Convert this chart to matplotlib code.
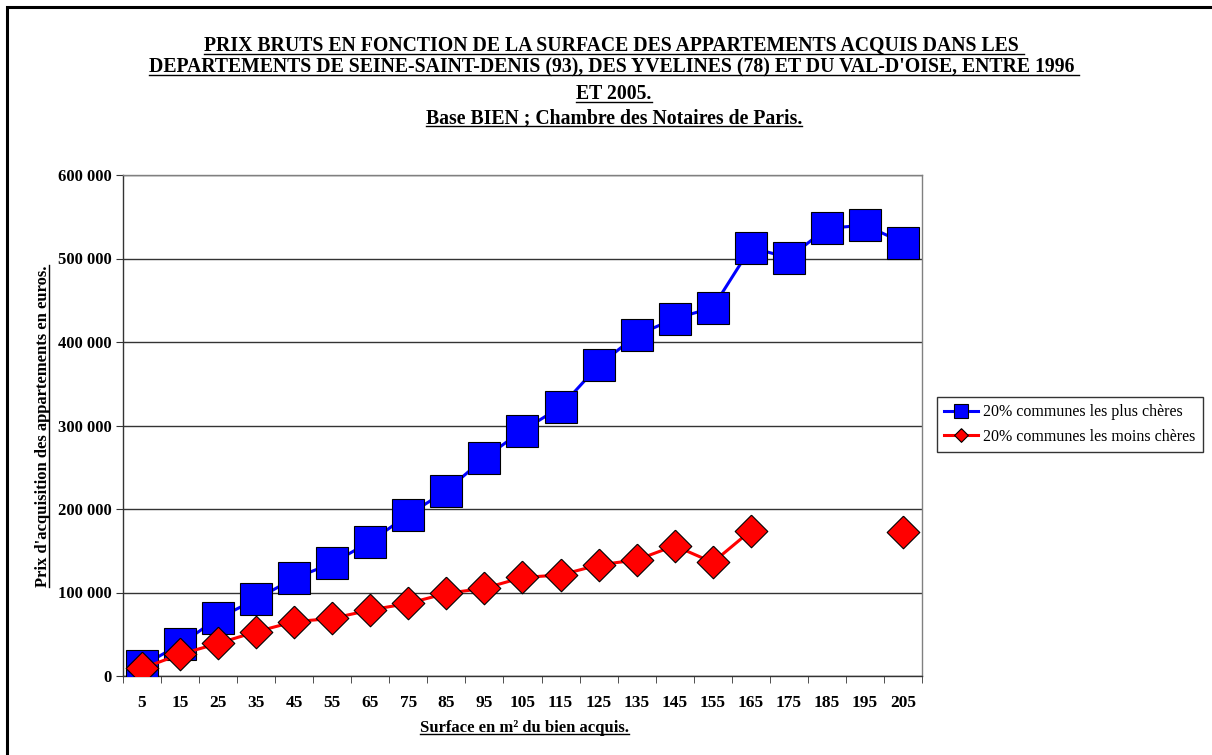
import numpy as np
import matplotlib
matplotlib.use('Agg')
import matplotlib.pyplot as plt
from matplotlib.lines import Line2D
from matplotlib.patches import Rectangle

# surface categories (m2)
surfaces = ['5', '15', '25', '35', '45', '55', '65', '75', '85', '95', '105',
            '115', '125', '135', '145', '155', '165', '175', '185', '195', '205']
# 20% most expensive communes
prix_cheres = [12000, 38000, 69000, 92000, 117000, 135000, 161000, 193000,
               222000, 261000, 294000, 322000, 372000, 408000, 428000, 441000,
               513000, 501000, 536000, 540000, 519000]
# 20% cheapest communes (no data 175-195)
prix_moins = [9000, 26000, 39000, 53000, 65000, 69000, 79000, 87000, 99000,
              105000, 118000, 121000, 133000, 139000, 156000, 136000, 174000,
              np.nan, np.nan, np.nan, 172000]
yticks = [0, 100000, 200000, 300000, 400000, 500000, 600000]

title_lines = [
    "PRIX BRUTS EN FONCTION DE LA SURFACE DES APPARTEMENTS ACQUIS DANS LES ",
    "DEPARTEMENTS DE SEINE-SAINT-DENIS (93), DES YVELINES (78) ET DU VAL-D'OISE, ENTRE 1996 ",
    "ET 2005.",
    "Base BIEN ; Chambre des Notaires de Paris.",
]

plt.rcParams['font.family'] = ['Liberation Serif', 'DejaVu Serif']

W, H = 1212, 755
fig = plt.figure(figsize=(W / 100, H / 100), dpi=100)
ax = fig.add_axes([123 / W, 1 - 676 / H, (922 - 123) / W, (676 - 175) / H])

x = np.arange(len(surfaces))
diamond = [(0, 1), (1, 0), (0, -1), (-1, 0), (0, 1)]
ax.plot(x, prix_cheres, color='#0000ff', lw=2.2, marker='s', ms=23.5,
        mfc='#0000ff', mec='black', mew=0.8, label='20% communes les plus chères', zorder=3)
ax.plot(x, prix_moins, color='#ff0000', lw=2.2, marker=diamond, ms=23.5,
        mfc='#ff0000', mec='black', mew=0.8, label='20% communes les moins chères', zorder=4)

ax.set_xlim(-0.5, len(surfaces) - 0.5)
ax.set_ylim(0, 600000)
ax.set_yticks(yticks)
ax.set_yticklabels(['{:,}'.format(v).replace(',', ' ') for v in yticks],
                   fontsize=12, fontweight='bold')
ax.set_xticks(x)
ax.set_xticklabels(surfaces, fontsize=12.5, fontweight='bold')
ax.set_xticks(np.arange(len(surfaces) + 1) - 0.5, minor=True)
ax.tick_params(axis='x', which='major', length=0, pad=14)
ax.tick_params(axis='x', which='minor', length=5, color='#333333', direction='out')
ax.tick_params(axis='y', length=5, color='#333333', direction='out', pad=3)
ax.yaxis.grid(True, color='#333333', lw=1)
ax.set_axisbelow(True)
for s in ax.spines.values():
    s.set_color('#808080')
    s.set_linewidth(1)
ax.spines['left'].set_color('#333333')
ax.spines['bottom'].set_color('#333333')

ylab = fig.text(43 / W, 1 - 426 / H, "Prix d'acquisition des appartements en euros.",
                fontsize=12, fontweight='bold', rotation=90, ha='center', va='center')
xlab = fig.text(524 / W, 1 - 728 / H, "Surface en m² du bien acquis.", fontsize=12,
                fontweight='bold', ha='center', va='center')

leg = fig.legend(loc='upper left', bbox_to_anchor=(937 / W, 1 - 397 / H),
                 fontsize=11.5, frameon=True, fancybox=False, edgecolor='black',
                 handlelength=2.1, markerscale=0.42, borderpad=0.45, labelspacing=0.55,
                 handletextpad=0.35, borderaxespad=0)
leg.get_frame().set_linewidth(1)

title_y = [46, 67, 94, 118]
title_txt = []
for line, yy in zip(title_lines, title_y):
    title_txt.append(fig.text(614 / W, 1 - yy / H, line, fontsize=14.2, fontweight='bold',
                              ha='center', va='center'))

# outer frame (left and top only visible)
fig.patches.append(Rectangle((7 / W, -0.1), 1.2, 1 - 7 / H + 0.1, transform=fig.transFigure,
                             fill=False, edgecolor='black', lw=2.2))

# underline texts
fig.canvas.draw()
r = fig.canvas.get_renderer()
inv = fig.transFigure.inverted()
for t in title_txt + [xlab]:
    bb = t.get_window_extent(r)
    (x0, y0), (x1, y1) = inv.transform([(bb.x0, bb.y0 + 2), (bb.x1, bb.y0 + 2)])
    fig.lines.append(Line2D([x0, x1], [y0, y1], transform=fig.transFigure, color='black', lw=1))
bb = ylab.get_window_extent(r)
(x0, y0), (x1, y1) = inv.transform([(bb.x1 - 2, bb.y0), (bb.x1 - 2, bb.y1)])
fig.lines.append(Line2D([x0, x1], [y0, y1], transform=fig.transFigure, color='black', lw=1))

fig.savefig('out.png', dpi=100)
